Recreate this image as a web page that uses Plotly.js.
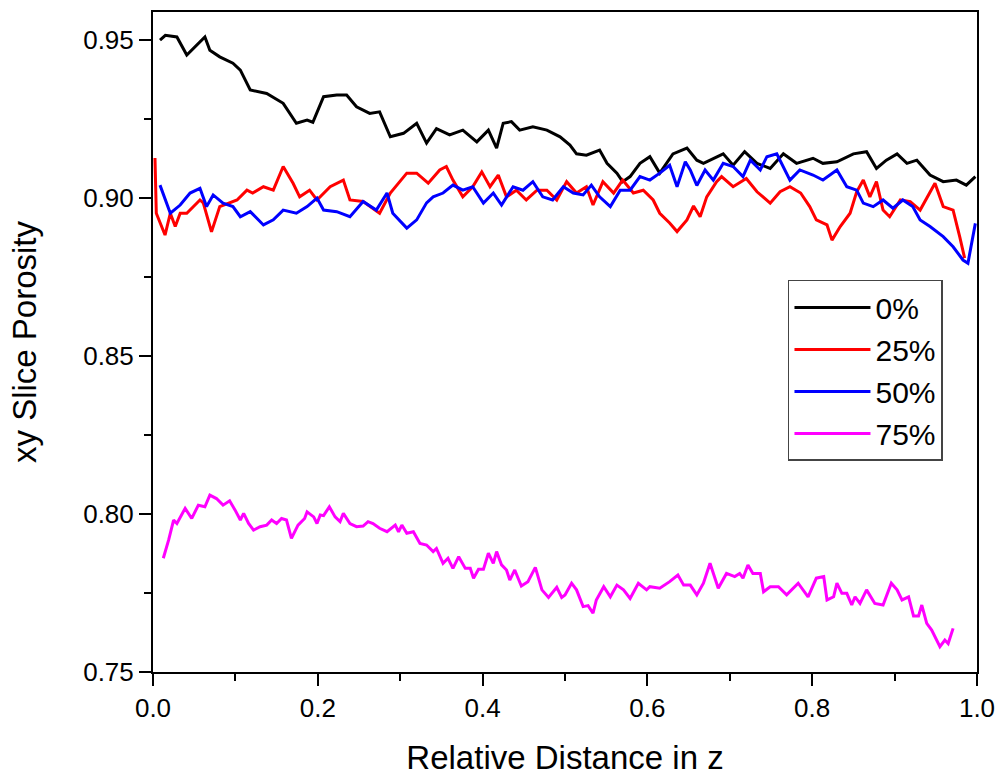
<!DOCTYPE html>
<html>
<head>
<meta charset="utf-8">
<script src="https://cdn.plot.ly/plotly-3.0.1.min.js"></script>
<style>html,body{margin:0;padding:0;background:#fff;}#chart{width:1000px;height:778px;}</style>
</head>
<body>
<div id="chart"></div>
<script>
const seriesNames = ["0%", "25%", "50%", "75%"];
const xTickVals = [0, 0.2, 0.4, 0.6, 0.8, 1.0];
const yTickVals = [0.75, 0.80, 0.85, 0.90, 0.95];

const x0 = [0.0085,0.015,0.029,0.041,0.063,0.069,0.081,0.097,0.106,0.118,0.138,0.158,0.174,0.187,0.194,0.207,0.223,0.235,0.247,0.263,0.275,0.288,0.304,0.320,0.332,0.344,0.360,0.376,0.393,0.407,0.417,0.425,0.435,0.445,0.461,0.478,0.494,0.506,0.514,0.526,0.542,0.551,0.563,0.570,0.579,0.591,0.603,0.615,0.631,0.648,0.660,0.668,0.692,0.704,0.718,0.733,0.749,0.765,0.781,0.801,0.813,0.830,0.850,0.866,0.878,0.890,0.903,0.915,0.927,0.943,0.959,0.975,0.987,0.998];
const y0 = [0.9500,0.9515,0.9510,0.9453,0.9510,0.9468,0.9447,0.9427,0.9405,0.9342,0.9331,0.9300,0.9237,0.9247,0.9240,0.9321,0.9326,0.9326,0.9289,0.9268,0.9273,0.9194,0.9205,0.9237,0.9174,0.9220,0.9200,0.9215,0.9178,0.9215,0.9158,0.9237,0.9242,0.9215,0.9226,0.9215,0.9194,0.9168,0.9140,0.9136,0.9152,0.9110,0.9079,0.9052,0.9068,0.9110,0.9131,0.9079,0.9140,0.9158,0.9120,0.9110,0.9140,0.9104,0.9147,0.9110,0.9094,0.9140,0.9110,0.9126,0.9110,0.9115,0.9140,0.9147,0.9094,0.9120,0.9140,0.9110,0.9120,0.9073,0.9052,0.9057,0.9041,0.9068];

const x25 = [0.0024,0.004,0.0146,0.021,0.027,0.033,0.041,0.057,0.061,0.071,0.081,0.093,0.102,0.114,0.121,0.134,0.146,0.158,0.170,0.178,0.190,0.199,0.215,0.231,0.239,0.255,0.275,0.288,0.308,0.320,0.334,0.348,0.356,0.364,0.376,0.388,0.399,0.409,0.419,0.429,0.441,0.453,0.466,0.478,0.490,0.502,0.514,0.526,0.534,0.546,0.559,0.570,0.583,0.595,0.607,0.615,0.627,0.636,0.648,0.656,0.664,0.672,0.684,0.690,0.704,0.720,0.733,0.749,0.761,0.773,0.786,0.797,0.805,0.818,0.824,0.834,0.846,0.854,0.862,0.870,0.878,0.886,0.894,0.907,0.919,0.931,0.943,0.949,0.959,0.971,0.979,0.985];
const y25 = [0.9127,0.8952,0.8883,0.8952,0.8910,0.8952,0.8952,0.8994,0.8985,0.8893,0.8973,0.8984,0.8994,0.9025,0.9016,0.9036,0.9025,0.9100,0.9047,0.9004,0.9025,0.8994,0.9036,0.9057,0.8994,0.8989,0.8952,0.9016,0.9079,0.9079,0.9047,0.9089,0.9100,0.9057,0.9004,0.9036,0.9083,0.9036,0.9073,0.9004,0.9025,0.8994,0.9025,0.9025,0.8994,0.9052,0.9016,0.9036,0.8978,0.9052,0.9016,0.9057,0.9016,0.9025,0.8994,0.8952,0.8921,0.8894,0.8931,0.8975,0.8941,0.9004,0.9052,0.9068,0.9036,0.9062,0.9020,0.8984,0.9020,0.9036,0.9016,0.8973,0.8931,0.8915,0.8867,0.8910,0.8952,0.9020,0.9057,0.9004,0.9052,0.8962,0.8941,0.8994,0.8989,0.8962,0.9020,0.9047,0.8973,0.8962,0.8878,0.8810];

const x50 = [0.0085,0.021,0.033,0.045,0.057,0.065,0.073,0.085,0.097,0.106,0.118,0.134,0.146,0.158,0.174,0.187,0.199,0.207,0.223,0.239,0.255,0.271,0.284,0.291,0.308,0.320,0.332,0.340,0.352,0.364,0.376,0.388,0.401,0.413,0.423,0.437,0.449,0.461,0.473,0.485,0.498,0.510,0.522,0.532,0.542,0.555,0.567,0.579,0.591,0.603,0.615,0.627,0.636,0.646,0.652,0.660,0.670,0.680,0.692,0.704,0.716,0.725,0.737,0.745,0.757,0.765,0.773,0.785,0.801,0.813,0.830,0.842,0.854,0.862,0.874,0.886,0.898,0.910,0.922,0.931,0.943,0.959,0.971,0.983,0.989,0.998];
const y50 = [0.9041,0.8952,0.8978,0.9016,0.9031,0.8973,0.9010,0.8984,0.8973,0.8941,0.8957,0.8915,0.8931,0.8962,0.8952,0.8973,0.9000,0.8962,0.8957,0.8941,0.8989,0.8962,0.9016,0.8952,0.8905,0.8931,0.8985,0.9004,0.9016,0.9041,0.9025,0.9036,0.8984,0.9016,0.8978,0.9036,0.9025,0.9052,0.9004,0.8994,0.9036,0.9016,0.9010,0.9041,0.9004,0.8973,0.9025,0.9025,0.9068,0.9057,0.9079,0.9104,0.9036,0.9115,0.9089,0.9040,0.9089,0.9057,0.9110,0.9100,0.9068,0.9120,0.9089,0.9131,0.9140,0.9100,0.9057,0.9089,0.9073,0.9057,0.9089,0.9036,0.9025,0.8984,0.8973,0.8994,0.8968,0.8994,0.8973,0.8931,0.8910,0.8878,0.8846,0.8804,0.8794,0.8920];

const x75 = [0.0125,0.019,0.025,0.029,0.039,0.047,0.055,0.063,0.069,0.077,0.085,0.093,0.0995,0.106,0.110,0.116,0.122,0.130,0.138,0.144,0.150,0.156,0.162,0.168,0.176,0.184,0.187,0.195,0.199,0.203,0.207,0.214,0.221,0.227,0.231,0.239,0.247,0.255,0.261,0.267,0.275,0.284,0.294,0.298,0.302,0.308,0.316,0.324,0.332,0.340,0.344,0.352,0.358,0.364,0.371,0.379,0.385,0.389,0.395,0.401,0.407,0.413,0.417,0.423,0.429,0.433,0.439,0.447,0.455,0.464,0.472,0.480,0.490,0.496,0.500,0.508,0.514,0.522,0.528,0.534,0.538,0.547,0.555,0.563,0.571,0.579,0.589,0.599,0.603,0.615,0.627,0.637,0.644,0.652,0.660,0.668,0.676,0.686,0.696,0.706,0.712,0.716,0.722,0.728,0.737,0.741,0.749,0.759,0.769,0.783,0.795,0.805,0.814,0.818,0.826,0.830,0.836,0.842,0.848,0.852,0.858,0.866,0.876,0.886,0.896,0.903,0.909,0.917,0.923,0.929,0.933,0.939,0.945,0.955,0.961,0.965,0.971];
const y75 = [0.7860,0.7918,0.7981,0.7970,0.8018,0.7986,0.8028,0.8023,0.8060,0.8049,0.8028,0.8042,0.8013,0.7981,0.8002,0.7970,0.7949,0.7960,0.7965,0.7981,0.7970,0.7986,0.7981,0.7923,0.7965,0.7986,0.8007,0.7991,0.7970,0.7997,0.7995,0.8023,0.7991,0.7976,0.8002,0.7970,0.7960,0.7962,0.7976,0.7970,0.7955,0.7944,0.7965,0.7944,0.7965,0.7939,0.7944,0.7907,0.7902,0.7881,0.7891,0.7844,0.7860,0.7828,0.7865,0.7828,0.7828,0.7797,0.7825,0.7825,0.7876,0.7844,0.7881,0.7839,0.7823,0.7791,0.7823,0.7772,0.7786,0.7831,0.7760,0.7736,0.7768,0.7736,0.7744,0.7781,0.7760,0.7707,0.7710,0.7686,0.7728,0.7770,0.7738,0.7775,0.7760,0.7733,0.7781,0.7760,0.7770,0.7765,0.7786,0.7807,0.7775,0.7775,0.7744,0.7781,0.7844,0.7765,0.7812,0.7802,0.7812,0.7797,0.7839,0.7812,0.7812,0.7754,0.7770,0.7770,0.7744,0.7781,0.7738,0.7797,0.7802,0.7728,0.7738,0.7781,0.7749,0.7749,0.7712,0.7738,0.7717,0.7760,0.7717,0.7712,0.7781,0.7760,0.7728,0.7738,0.7677,0.7677,0.7712,0.7654,0.7633,0.7580,0.7601,0.7590,0.7638];

const colors = ["#000000", "#ff0000", "#0000ff", "#ff00ff"];
const xs = [x0, x25, x50, x75];
const ys = [y0, y25, y50, y75];

const traces = seriesNames.map((name, i) => ({
  x: xs[i], y: ys[i], name: name, type: "scatter", mode: "lines",
  line: {color: colors[i], width: 3, shape: "linear"}
}));

const font = "Liberation Sans, Arial, sans-serif";
const layout = {
  width: 1000, height: 778,
  margin: {l: 153, r: 23, t: 12, b: 106},
  paper_bgcolor: "#ffffff", plot_bgcolor: "#ffffff",
  showlegend: true,
  legend: {
    x: 0.7706, y: 0.594, xanchor: "left", yanchor: "top",
    bgcolor: "#ffffff", bordercolor: "#444444", borderwidth: 1.5,
    font: {family: font, size: 30, color: "#000"},
    itemwidth: 76
  },
  xaxis: {
    range: [0, 1], tickvals: xTickVals, ticktext: xTickVals.map(v => v.toFixed(1)),
    ticks: "outside", ticklen: 12, tickwidth: 2, tickcolor: "#000",
    minor: {dtick: 0.1, ticks: "outside", ticklen: 7, tickwidth: 2, tickcolor: "#000"},
    showline: true, linewidth: 2, linecolor: "#000", mirror: true,
    showgrid: false, zeroline: false,
    tickfont: {family: font, size: 26, color: "#000"},
    title: {text: "Relative Distance in z", font: {family: font, size: 33, color: "#000"}, standoff: 24}
  },
  yaxis: {
    range: [0.75, 0.9589], tickvals: yTickVals, ticktext: yTickVals.map(v => v.toFixed(2)),
    ticks: "outside", ticklen: 12, tickwidth: 2, tickcolor: "#000",
    minor: {dtick: 0.025, ticks: "outside", ticklen: 7, tickwidth: 2, tickcolor: "#000"},
    showline: true, linewidth: 2, linecolor: "#000", mirror: true,
    showgrid: false, zeroline: false,
    tickfont: {family: font, size: 26, color: "#000"},
    title: {text: "xy Slice Porosity", font: {family: font, size: 33, color: "#000"}, standoff: 37}
  }
};

Plotly.newPlot("chart", traces, layout, {displayModeBar: false, staticPlot: true});
</script>
</body>
</html>
